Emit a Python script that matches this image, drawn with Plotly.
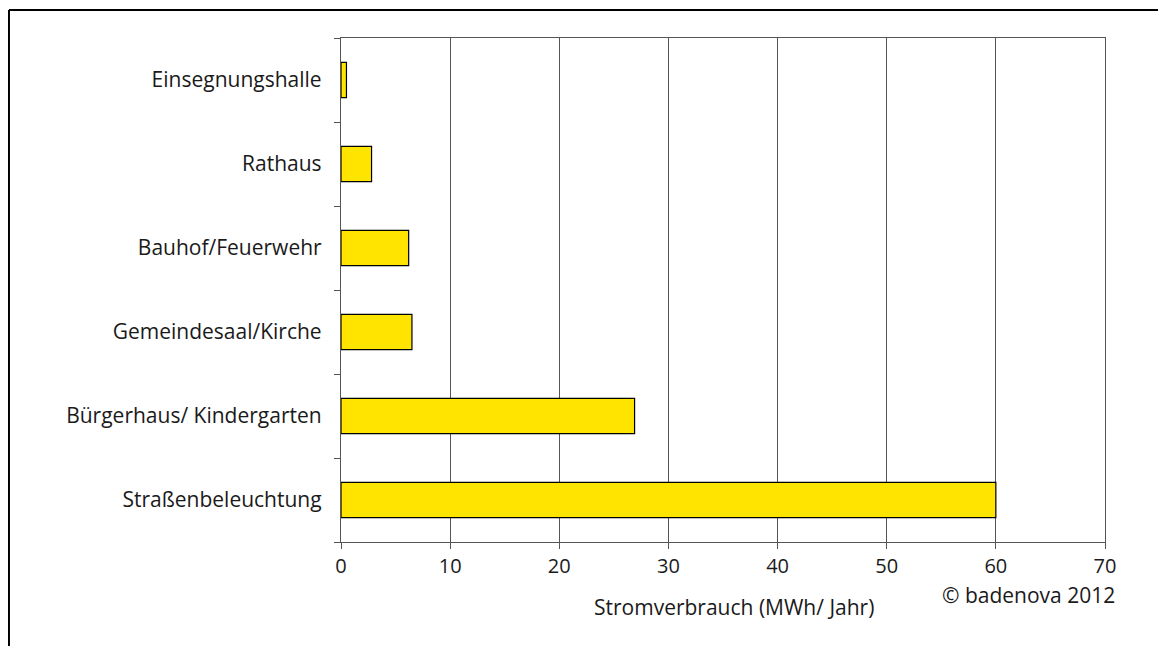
import plotly.graph_objects as go

# categories listed bottom to top
CATEGORIES = ['Straßenbeleuchtung', 'Bürgerhaus/ Kindergarten', 'Gemeindesaal/Kirche',
              'Bauhof/Feuerwehr', 'Rathaus', 'Einsegnungshalle']
VALUES = [60.0, 26.9, 6.5, 6.2, 2.8, 0.5]
X_TICKS = [0, 10, 20, 30, 40, 50, 60, 70]

BAR_COLOR = '#FFE400'
GRID_COLOR = '#555555'
FONT = 'Open Sans'
FS = 21

fig = go.Figure()
fig.add_trace(go.Bar(x=VALUES, y=CATEGORIES, orientation='h',
                     marker=dict(color=BAR_COLOR, line=dict(color='black', width=1.2)),
                     hoverinfo='x+y'))

# page body has an 8px margin, so the figure is shifted by 8px
fig.update_layout(
    width=1158, height=638,
    margin=dict(l=333, r=61, t=30, b=104),
    paper_bgcolor='white', plot_bgcolor='white',
    bargap=0.58,
    showlegend=False,
    font=dict(family=FONT, size=FS, color='#1a1a1a'),
    xaxis=dict(range=[0, 70], tickvals=X_TICKS, showgrid=True, gridcolor=GRID_COLOR, gridwidth=1.3,
               showline=True, linecolor=GRID_COLOR, linewidth=1.3, mirror=True,
               ticks='outside', ticklen=6, tickcolor=GRID_COLOR, zeroline=False,
               tickfont=dict(size=20)),
    yaxis=dict(showgrid=False, showline=True, linecolor=GRID_COLOR, linewidth=1.3, mirror=True,
               ticks='outside', ticklen=6, tickcolor=GRID_COLOR, tickson='boundaries',
               ticklabelstandoff=14, tickfont=dict(size=FS)),
    annotations=[
        dict(text='Stromverbrauch (MWh/ Jahr)', xref='paper', yref='paper', x=0.514, y=-0.129,
             showarrow=False, xanchor='center', yanchor='middle', font=dict(size=FS)),
        dict(text='© badenova 2012', xref='paper', yref='paper', x=1.0157, y=-0.1052,
             showarrow=False, xanchor='right', yanchor='middle', font=dict(size=FS)),
    ],
    shapes=[
        dict(type='line', xref='paper', yref='paper', x0=-0.4346, x1=1.1, y0=1.0556, y1=1.0556,
             line=dict(color='black', width=2)),
        dict(type='line', xref='paper', yref='paper', x0=-0.4346, x1=-0.4346, y0=1.0556, y1=-0.3,
             line=dict(color='black', width=2)),
    ],
)

fig.write_html('out.html')
